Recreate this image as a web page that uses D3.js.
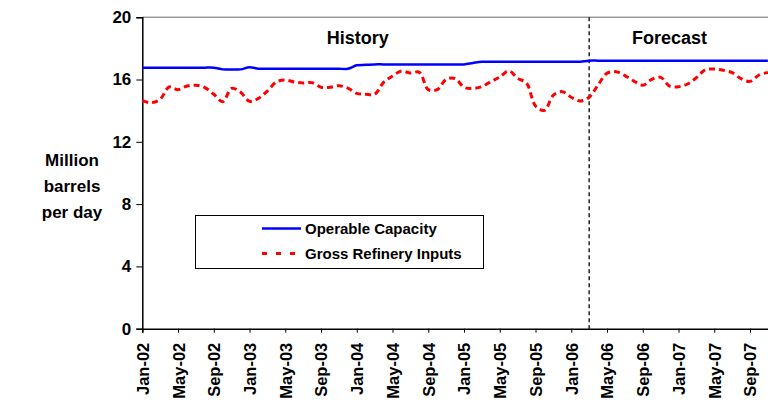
<!DOCTYPE html>
<html>
<head>
<meta charset="utf-8">
<script src="https://cdn.jsdelivr.net/npm/d3@7"></script>
<style>
  body { margin: 0; background: #fff; }
  svg { display: block; font-family: "Liberation Sans", Arial, sans-serif; font-weight: bold; }
</style>
</head>
<body>
<div id="chart"></div>
<script>
// monthly series, Jan-02 onward (index = months since Jan-02)
const capacity = [
  16.76, 16.76, 16.76, 16.76, 16.76, 16.76, 16.76, 16.76, 16.76,
  16.65, 16.65, 16.65, 16.78,
  16.69, 16.69, 16.69, 16.69, 16.69, 16.69, 16.69, 16.69, 16.69, 16.69, 16.69,
  16.91, 16.94,
  16.97, 16.97, 16.97, 16.97, 16.97, 16.97, 16.97, 16.97, 16.97, 16.97, 16.97,
  17.06,
  17.14, 17.14, 17.14, 17.14, 17.14, 17.14, 17.14, 17.14, 17.14, 17.14, 17.14, 17.14,
  17.21, 17.21, 17.21, 17.21, 17.21, 17.21, 17.21, 17.21, 17.21, 17.21, 17.21,
  17.21, 17.21, 17.21, 17.21, 17.21, 17.21, 17.21, 17.21, 17.21, 17.21
];
const inputs = [
  14.64, 14.51, 14.73, 15.52, 15.35, 15.58, 15.63, 15.48, 15.05, 14.58,
  15.43, 15.18, 14.60, 14.79, 15.26, 15.84, 15.97, 15.84, 15.78, 15.80,
  15.50, 15.50, 15.60, 15.45, 15.11, 15.05, 15.05, 15.82, 16.22, 16.54,
  16.42, 16.46, 15.35, 15.35, 16.01, 16.06, 15.50, 15.43, 15.54, 15.86,
  16.16, 16.55, 16.08, 15.76, 14.30, 14.02, 15.00, 15.22, 14.86, 14.62,
  14.86, 15.65, 16.40, 16.50, 16.25, 15.90, 15.63, 16.01, 16.14, 15.58,
  15.54, 15.71, 16.12, 16.63, 16.67, 16.59, 16.44, 16.05, 15.88, 16.29,
  16.45
];
const tickMonths = [0, 4, 8, 12, 16, 20, 24, 28, 32, 36, 40, 44, 48, 52, 56, 60, 64, 68];
const tickLabels = ["Jan-02", "May-02", "Sep-02", "Jan-03", "May-03", "Sep-03", "Jan-04", "May-04", "Sep-04",
  "Jan-05", "May-05", "Sep-05", "Jan-06", "May-06", "Sep-06", "Jan-07", "May-07", "Sep-07"];
const yTicks = [0, 4, 8, 12, 16, 20];
const forecastStart = 50; // Mar-06
const seriesNames = ["Operable Capacity", "Gross Refinery Inputs"];

const W = 768, H = 406;
const plotLeft = 142.3, plotTop = 17.2, plotBottom = 328.7, monthW = 8.937;

const svg = d3.select("#chart").append("svg")
  .attr("width", W).attr("height", H);

const x = d3.scaleLinear().domain([0, 71]).range([plotLeft, plotLeft + 71 * monthW]);
const y = d3.scaleLinear().domain([0, 20]).range([plotBottom, plotTop]);

// plot border (top / right)
svg.append("path")
  .attr("d", `M${plotLeft},${plotTop}H${x(71)}V${plotBottom}`)
  .attr("fill", "none").attr("stroke", "#666").attr("stroke-width", 1);

// y axis
const yAxis = svg.append("g")
  .attr("transform", `translate(${plotLeft},0)`)
  .call(d3.axisLeft(y).tickValues(yTicks).tickSize(6).tickPadding(5));
yAxis.select(".domain").attr("stroke", "#000").attr("stroke-width", 1.5);
yAxis.selectAll(".tick line").attr("stroke", "#000");
yAxis.selectAll(".tick text")
  .attr("font-size", 17).attr("font-weight", "bold").attr("fill", "#000")
  .attr("font-family", "Liberation Sans, Arial, sans-serif");

// x axis
const xAxis = svg.append("g")
  .attr("transform", `translate(0,${plotBottom})`)
  .call(d3.axisBottom(x).tickValues(tickMonths).tickSize(4)
    .tickFormat((d, i) => tickLabels[i]));
xAxis.select(".domain").attr("stroke", "#000").attr("stroke-width", 1.5);
xAxis.selectAll(".tick line").attr("stroke", "#000");
xAxis.selectAll(".tick text")
  .attr("font-size", 16.5).attr("font-weight", "bold").attr("fill", "#000")
  .attr("font-family", "Liberation Sans, Arial, sans-serif")
  .attr("text-anchor", "end")
  .attr("transform", "rotate(-90)")
  .attr("x", -14).attr("y", 0).attr("dy", "0.36em");

// history / forecast divider
svg.append("line")
  .attr("x1", x(forecastStart)).attr("x2", x(forecastStart))
  .attr("y1", plotTop).attr("y2", plotBottom)
  .attr("stroke", "#000").attr("stroke-width", 1.3)
  .attr("stroke-dasharray", "4,3");

svg.append("text").attr("x", x(24.1)).attr("y", y(18.25))
  .attr("text-anchor", "middle").attr("font-size", 18).text("History");
svg.append("text").attr("x", x(59)).attr("y", y(18.25))
  .attr("text-anchor", "middle").attr("font-size", 18).text("Forecast");

const line = d3.line()
  .x((d, i) => x(i))
  .y(d => y(d))
  .curve(d3.curveCatmullRom.alpha(0.5));

svg.append("path").datum(capacity)
  .attr("d", line).attr("fill", "none")
  .attr("stroke", "#0000ff").attr("stroke-width", 2.5);

svg.append("path").datum(inputs)
  .attr("d", line).attr("fill", "none")
  .attr("stroke", "#ff0000").attr("stroke-width", 3)
  .attr("stroke-dasharray", "6,4");

// y axis title
const yTitle = svg.append("text").attr("text-anchor", "middle").attr("font-size", 17);
["Million", "barrels", "per day"].forEach((t, i) => {
  yTitle.append("tspan").attr("x", 72).attr("y", 166 + i * 26).text(t);
});

// legend
const lg = svg.append("g");
lg.append("rect").attr("x", 195.5).attr("y", 215.5).attr("width", 288).attr("height", 53)
  .attr("fill", "#fff").attr("stroke", "#000").attr("stroke-width", 1);
lg.append("line").attr("x1", 262).attr("x2", 301).attr("y1", 228.5).attr("y2", 228.5)
  .attr("stroke", "#0000ff").attr("stroke-width", 2.5);
lg.append("line").attr("x1", 262).attr("x2", 297).attr("y1", 253.5).attr("y2", 253.5)
  .attr("stroke", "#ff0000").attr("stroke-width", 3).attr("stroke-dasharray", "5,9");
lg.append("text").attr("x", 305).attr("y", 234).attr("font-size", 15).text(seriesNames[0]);
lg.append("text").attr("x", 305).attr("y", 259).attr("font-size", 15).text(seriesNames[1]);
</script>
</body>
</html>
